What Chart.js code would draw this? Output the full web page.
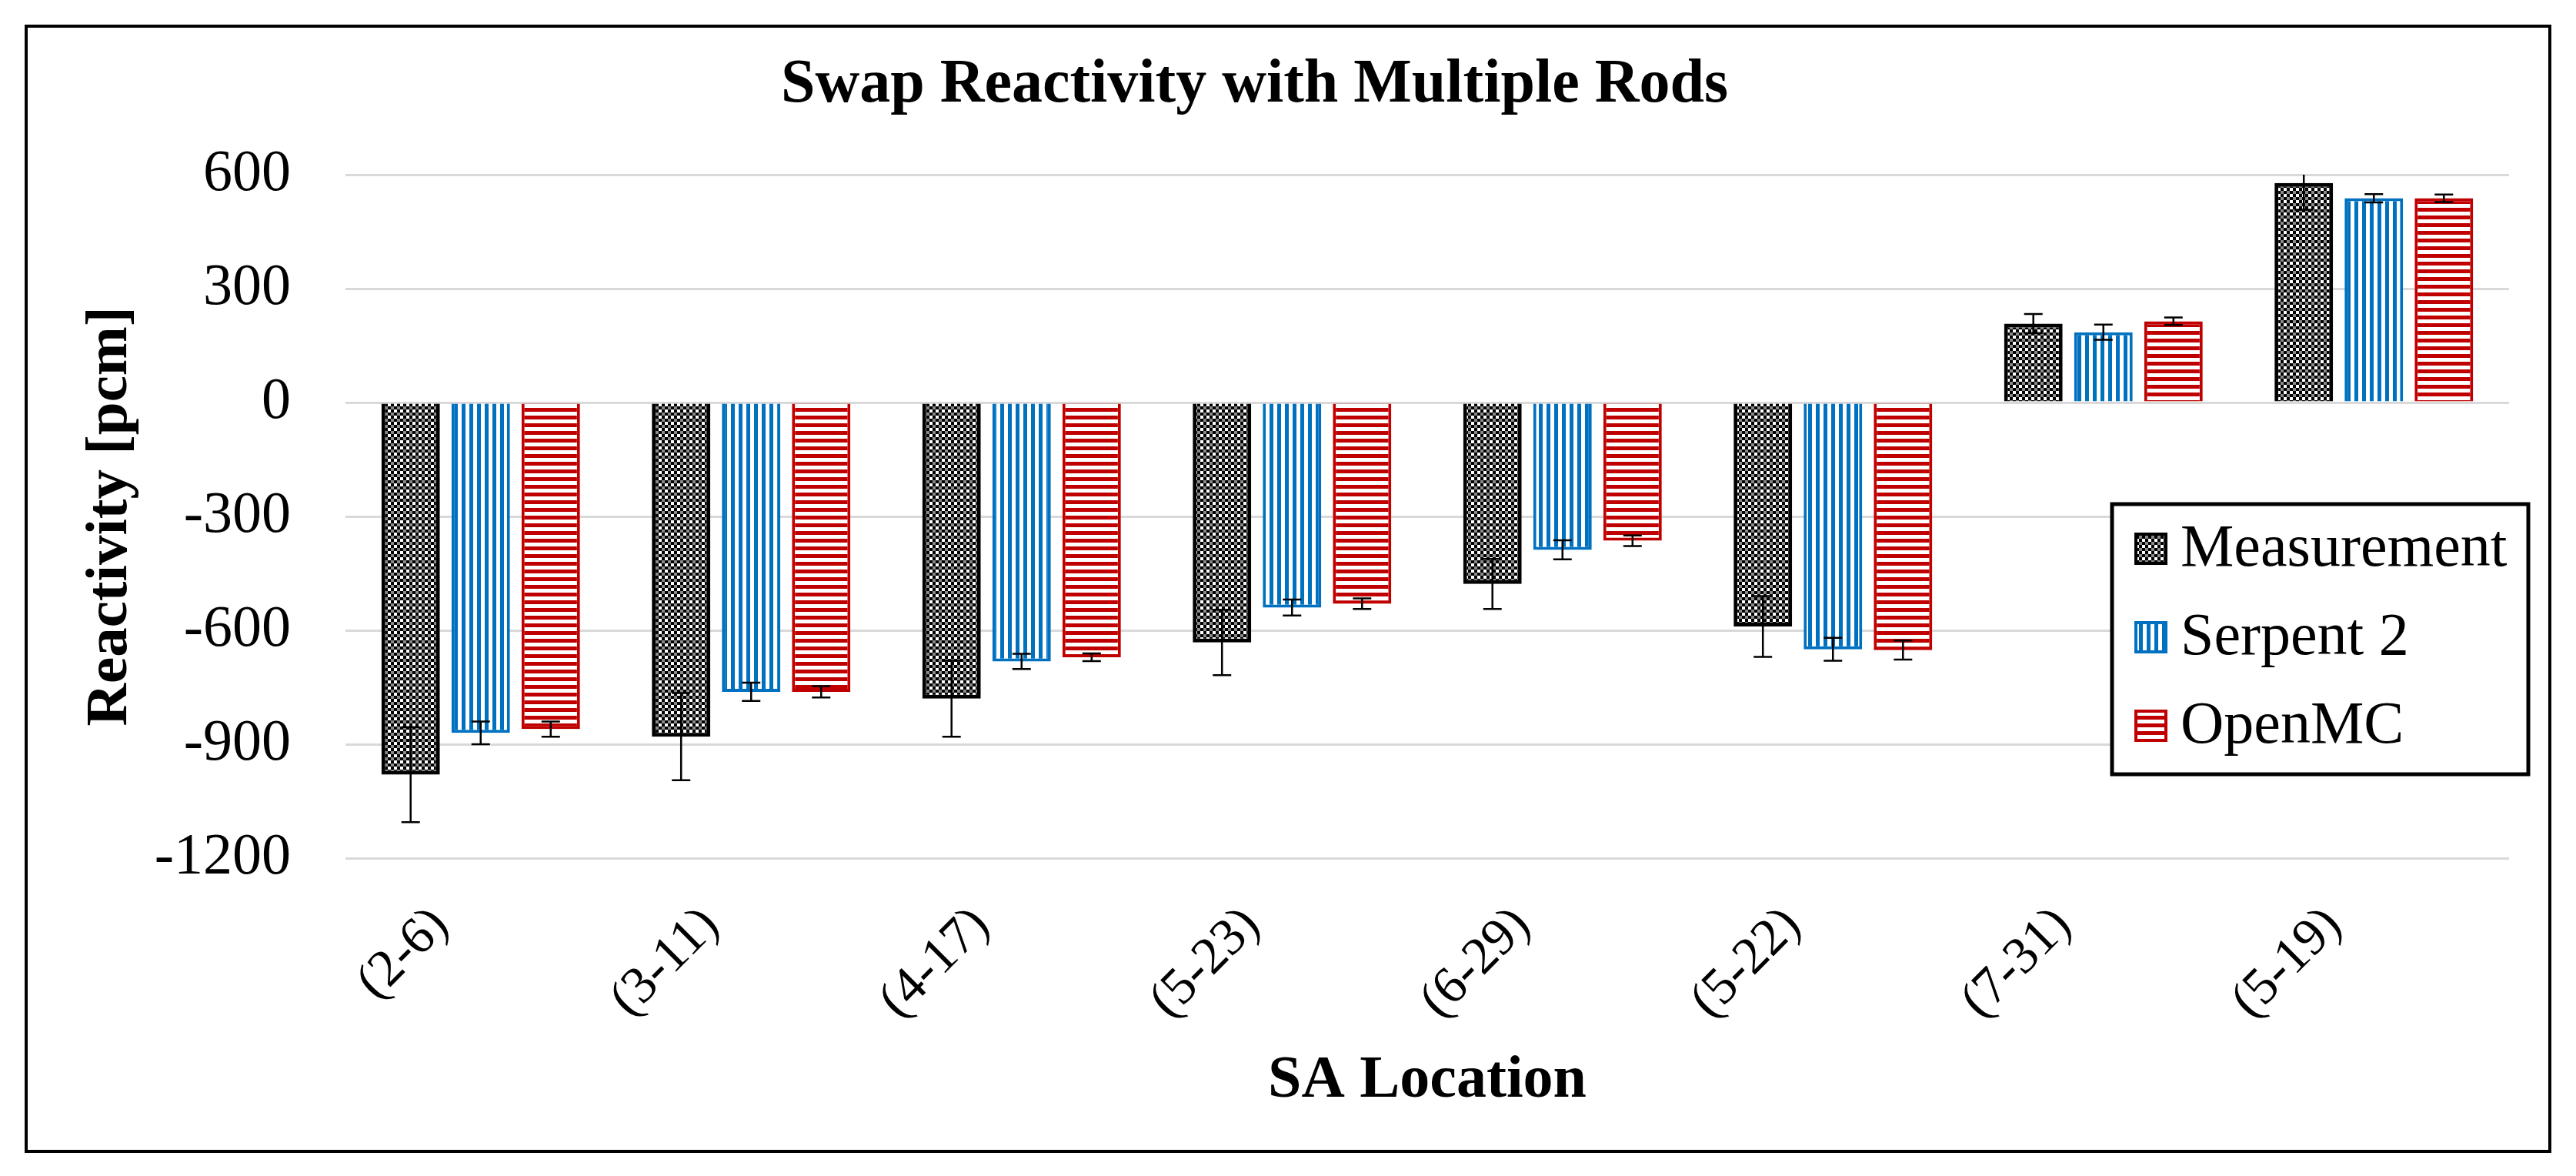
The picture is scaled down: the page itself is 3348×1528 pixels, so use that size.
<!DOCTYPE html>
<html>
<head>
<meta charset="utf-8">
<script src="https://cdn.jsdelivr.net/npm/chart.js@4.4.1/dist/chart.umd.min.js"></script>
<style>
  html, body { margin: 0; padding: 0; background: #fff; }
  #wrap { width: 3348px; height: 1528px; }
</style>
</head>
<body>
<div id="wrap"><canvas id="swapChart" width="3348" height="1528"></canvas></div>
<script>
// SA locations on the x axis
const locations = ["(2-6)", "(3-11)", "(4-17)", "(5-23)", "(6-29)", "(5-22)", "(7-31)", "(5-19)"];

// reactivity values [pcm] and their error bars
const measurement    = [-980, -880, -780, -632, -478, -590, 208, 578];
const measurementErr = [125, 115, 100, 86, 66, 80, 25, 70];
const serpent        = [-870, -762, -682, -540, -388, -650, 185, 538];
const serpentErr     = [30, 24, 20, 21, 25, 30, 20, 11];
const openmc         = [-860, -762, -671, -530, -364, -652, 214, 538];
const openmcErr      = [20, 15, 10, 14, 14, 25, 10, 10];

// y axis ticks
const yMin = -1200, yMax = 600, yStep = 300;

const serif = "'Liberation Serif', 'Times New Roman', serif";

// fill patterns like the excel ones
function makePattern(size, drawTile) {
    const tile = document.createElement("canvas");
    tile.width = size;
    tile.height = size;
    const tctx = tile.getContext("2d");
    tctx.fillStyle = "#ffffff";
    tctx.fillRect(0, 0, size, size);
    drawTile(tctx, size);
    return document.getElementById("swapChart").getContext("2d").createPattern(tile, "repeat");
}

const checkerFill = makePattern(8, (c, s) => {
    c.fillStyle = "#000000";
    c.fillRect(0, 0, s / 2, s / 2);
    c.fillRect(s / 2, s / 2, s / 2, s / 2);
    c.fillStyle = "#8a8a8a";
    c.fillRect(s / 2, 0, s / 2, s / 2);
});
const blueStripes = makePattern(10, (c, s) => {
    c.fillStyle = "#0070C0";
    c.fillRect(0, 0, 5, s);
});
const redStripes = makePattern(10, (c, s) => {
    c.fillStyle = "#C00000";
    c.fillRect(0, 0, s, 5);
});

// draws +/- error bars on top of every bar
const errorBars = {
    id: "errorBars",
    afterDatasetsDraw(chart, args, opts) {
        const { ctx, chartArea, scales } = chart;
        const y = scales.y;
        ctx.save();
        ctx.beginPath();
        ctx.rect(chartArea.left, chartArea.top, chartArea.right - chartArea.left, chartArea.bottom - chartArea.top);
        ctx.clip();
        ctx.strokeStyle = "#000";
        ctx.lineWidth = opts.lineWidth;
        chart.data.datasets.forEach((ds, i) => {
            const meta = chart.getDatasetMeta(i);
            meta.data.forEach((bar, j) => {
                const v = ds.data[j], e = ds.errors[j];
                const yHi = y.getPixelForValue(v + e);
                const yLo = y.getPixelForValue(v - e);
                const x = bar.x;
                ctx.beginPath();
                ctx.moveTo(x, yHi);
                ctx.lineTo(x, yLo);
                ctx.moveTo(x - opts.cap, yHi);
                ctx.lineTo(x + opts.cap, yHi);
                ctx.moveTo(x - opts.cap, yLo);
                ctx.lineTo(x + opts.cap, yLo);
                ctx.stroke();
            });
        });
        ctx.restore();
    }
};

// boxed legend inside the plot, plus the outer frame
const boxLegend = {
    id: "boxLegend",
    afterDraw(chart, args, opts) {
        const ctx = chart.ctx;
        ctx.save();
        ctx.fillStyle = "#fff";
        ctx.fillRect(opts.x, opts.y, opts.w, opts.h);
        ctx.strokeStyle = "#000";
        ctx.lineWidth = 5;
        ctx.strokeRect(opts.x, opts.y, opts.w, opts.h);
        ctx.font = `${opts.fontSize}px ${serif}`;
        ctx.textBaseline = "middle";
        ctx.textAlign = "left";
        chart.data.datasets.forEach((ds, i) => {
            const cy = opts.firstRow + i * opts.rowGap;
            const sx = opts.x + 29;
            ctx.fillStyle = ds.backgroundColor;
            ctx.fillRect(sx, cy - 21, 43, 42);
            ctx.strokeStyle = ds.borderColor;
            ctx.lineWidth = 4;
            ctx.strokeRect(sx + 2, cy - 19, 39, 38);
            ctx.fillStyle = "#000";
            ctx.fillText(ds.label, sx + 60, cy + 2);
        });
        // frame round the whole figure
        ctx.strokeStyle = "#000";
        ctx.lineWidth = 4;
        ctx.strokeRect(34, 34, 3280, 1462);
        ctx.restore();
    }
};

const chart = new Chart(document.getElementById("swapChart"), {
    type: "bar",
    data: {
        labels: locations,
        datasets: [{
            label: "Measurement",
            data: measurement,
            errors: measurementErr,
            backgroundColor: checkerFill,
            borderColor: "#000000",
            borderWidth: 5
        }, {
            label: "Serpent 2",
            data: serpent,
            errors: serpentErr,
            backgroundColor: blueStripes,
            borderColor: "#0070C0",
            borderWidth: 4
        }, {
            label: "OpenMC",
            data: openmc,
            errors: openmcErr,
            backgroundColor: redStripes,
            borderColor: "#C00000",
            borderWidth: 4
        }]
    },
    options: {
        responsive: false,
        animation: false,
        devicePixelRatio: 1,
        datasets: {
            bar: { categoryPercentage: 0.777, barPercentage: 0.835 }
        },
        layout: { padding: { left: 0, right: 87, top: 0, bottom: 0 } },
        plugins: {
            legend: { display: false },
            tooltip: { enabled: false },
            title: {
                display: true,
                text: "Swap Reactivity with Multiple Rods",
                color: "#000",
                font: { family: serif, size: 80, weight: "bold" },
                padding: { top: 63, bottom: 68 }
            },
            errorBars: { lineWidth: 2.5, cap: 12 },
            boxLegend: { x: 2745, y: 655, w: 541, h: 351, firstRow: 713, rowGap: 115, fontSize: 78 }
        },
        scales: {
            x: {
                grid: { display: false },
                border: { display: false },
                ticks: {
                    color: "#000",
                    font: { family: serif, size: 68 },
                    minRotation: 45,
                    maxRotation: 45,
                    padding: 40,
                    labelOffset: -52
                },
                title: {
                    display: true,
                    text: "SA Location",
                    color: "#000",
                    font: { family: serif, size: 78, weight: "bold" },
                    padding: { top: 0, bottom: 76 }
                },
                afterFit: scale => { scale.height = 413; }
            },
            y: {
                min: yMin,
                max: yMax,
                ticks: {
                    stepSize: yStep,
                    color: "#000",
                    font: { family: serif, size: 76 },
                    padding: 71,
                    callback: v => String(v)
                },
                grid: { color: "#d9d9d9", lineWidth: 3, drawTicks: false },
                border: { display: false },
                title: {
                    display: true,
                    text: "Reactivity [pcm]",
                    color: "#000",
                    font: { family: serif, size: 77, weight: "bold" },
                    padding: { top: 98, bottom: 0 }
                },
                afterFit: scale => { scale.width = 449; }
            }
        }
    },
    plugins: [errorBars, boxLegend]
});
</script>
</body>
</html>
